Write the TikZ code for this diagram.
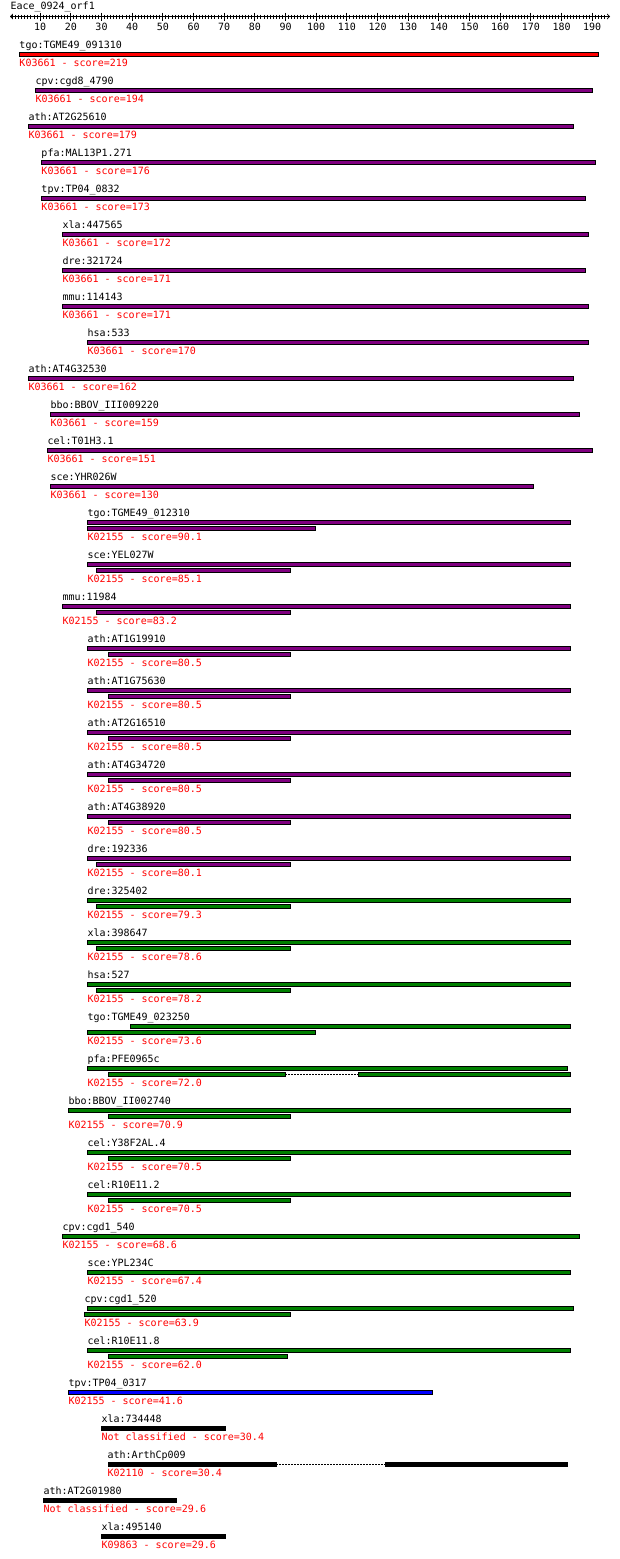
\documentclass[tikz,border=0pt]{standalone}
\usepackage{fontspec}
\newfontfamily\hitfont{DejaVu Sans Mono}
\usepackage{tikz}
\usetikzlibrary{positioning}
\definecolor{hitred}{RGB}{255,0,0}
\definecolor{hitpurple}{RGB}{128,0,128}
\definecolor{hitgreen}{RGB}{0,128,0}
\definecolor{hitblue}{RGB}{0,0,255}

\begin{document}
\begin{tikzpicture}[x=1pt,y=-1pt,line width=1pt,
  txt/.style={font=\hitfont\fontsize{10pt}{12pt}\selectfont,inner sep=0pt,text height=7.3pt,text depth=0pt},
  gene/.style={txt,anchor=west},
  kid/.style={txt,anchor=west,text=hitred},
  redbar/.style={draw=black,fill=hitred},
  purplebar/.style={draw=black,fill=hitpurple},
  greenbar/.style={draw=black,fill=hitgreen},
  bluebar/.style={draw=black,fill=hitblue},
  blackbar/.style={draw=black,fill=black},
  gapline/.style={line width=1pt,dash pattern=on 2pt off 1pt}]
  \useasboundingbox (0,0) rectangle (620,1559);

  % ruler
  \node[gene] (orf) at (10,6) {Eace\_0924\_orf1};
  \coordinate (r0) at (10,16.5);
  \coordinate (r1) at (610,16.5);
  \draw[<->] (r0) -- (r1);
  \foreach \v in {1,...,194}
    \draw ({9.5+3.067*\v},14.5) -- ++(0,4.5);
  \foreach \v in {10,20,...,190}{
    \draw ({9.5+3.067*\v},12.5) -- ++(0,8);
    \node[txt] (n\v) at ({9.5+3.067*\v},27) {\v};
  }

  % K03661
  \node[gene] (g01) at (19,45) {tgo:TGME49\_091310};
  \filldraw[redbar] (19,52) rectangle (598,56);
  \node[kid] (k01) at (19,63) {K03661 - score=219};

  \node[gene] (g02) at (35,81) {cpv:cgd8\_4790};
  \filldraw[purplebar] (35,88) rectangle (592,92);
  \node[kid] (k02) at (35,99) {K03661 - score=194};

  \node[gene] (g03) at (28,117) {ath:AT2G25610};
  \filldraw[purplebar] (28,124) rectangle (573,128);
  \node[kid] (k03) at (28,135) {K03661 - score=179};

  \node[gene] (g04) at (41,153) {pfa:MAL13P1.271};
  \filldraw[purplebar] (41,160) rectangle (595,164);
  \node[kid] (k04) at (41,171) {K03661 - score=176};

  \node[gene] (g05) at (41,189) {tpv:TP04\_0832};
  \filldraw[purplebar] (41,196) rectangle (585,200);
  \node[kid] (k05) at (41,207) {K03661 - score=173};

  \node[gene] (g06) at (62,225) {xla:447565};
  \filldraw[purplebar] (62,232) rectangle (588,236);
  \node[kid] (k06) at (62,243) {K03661 - score=172};

  \node[gene] (g07) at (62,261) {dre:321724};
  \filldraw[purplebar] (62,268) rectangle (585,272);
  \node[kid] (k07) at (62,279) {K03661 - score=171};

  \node[gene] (g08) at (62,297) {mmu:114143};
  \filldraw[purplebar] (62,304) rectangle (588,308);
  \node[kid] (k08) at (62,315) {K03661 - score=171};

  \node[gene] (g09) at (87,333) {hsa:533};
  \filldraw[purplebar] (87,340) rectangle (588,344);
  \node[kid] (k09) at (87,351) {K03661 - score=170};

  \node[gene] (g10) at (28,369) {ath:AT4G32530};
  \filldraw[purplebar] (28,376) rectangle (573,380);
  \node[kid] (k10) at (28,387) {K03661 - score=162};

  \node[gene] (g11) at (50,405) {bbo:BBOV\_III009220};
  \filldraw[purplebar] (50,412) rectangle (579,416);
  \node[kid] (k11) at (50,423) {K03661 - score=159};

  \node[gene] (g12) at (47,441) {cel:T01H3.1};
  \filldraw[purplebar] (47,448) rectangle (592,452);
  \node[kid] (k12) at (47,459) {K03661 - score=151};

  \node[gene] (g13) at (50,477) {sce:YHR026W};
  \filldraw[purplebar] (50,484) rectangle (533,488);
  \node[kid] (k13) at (50,495) {K03661 - score=130};

  % K02155
  \node[gene] (g14) at (87,513) {tgo:TGME49\_012310};
  \filldraw[purplebar] (87,520) rectangle (570,524);
  \filldraw[purplebar] (87,526) rectangle (315,530);
  \node[kid] (k14) at (87,537) {K02155 - score=90.1};

  \node[gene] (g15) at (87,555) {sce:YEL027W};
  \filldraw[purplebar] (87,562) rectangle (570,566);
  \filldraw[purplebar] (96,568) rectangle (290,572);
  \node[kid] (k15) at (87,579) {K02155 - score=85.1};

  \node[gene] (g16) at (62,597) {mmu:11984};
  \filldraw[purplebar] (62,604) rectangle (570,608);
  \filldraw[purplebar] (96,610) rectangle (290,614);
  \node[kid] (k16) at (62,621) {K02155 - score=83.2};

  \node[gene] (g17) at (87,639) {ath:AT1G19910};
  \filldraw[purplebar] (87,646) rectangle (570,650);
  \filldraw[purplebar] (108,652) rectangle (290,656);
  \node[kid] (k17) at (87,663) {K02155 - score=80.5};

  \node[gene] (g18) at (87,681) {ath:AT1G75630};
  \filldraw[purplebar] (87,688) rectangle (570,692);
  \filldraw[purplebar] (108,694) rectangle (290,698);
  \node[kid] (k18) at (87,705) {K02155 - score=80.5};

  \node[gene] (g19) at (87,723) {ath:AT2G16510};
  \filldraw[purplebar] (87,730) rectangle (570,734);
  \filldraw[purplebar] (108,736) rectangle (290,740);
  \node[kid] (k19) at (87,747) {K02155 - score=80.5};

  \node[gene] (g20) at (87,765) {ath:AT4G34720};
  \filldraw[purplebar] (87,772) rectangle (570,776);
  \filldraw[purplebar] (108,778) rectangle (290,782);
  \node[kid] (k20) at (87,789) {K02155 - score=80.5};

  \node[gene] (g21) at (87,807) {ath:AT4G38920};
  \filldraw[purplebar] (87,814) rectangle (570,818);
  \filldraw[purplebar] (108,820) rectangle (290,824);
  \node[kid] (k21) at (87,831) {K02155 - score=80.5};

  \node[gene] (g22) at (87,849) {dre:192336};
  \filldraw[purplebar] (87,856) rectangle (570,860);
  \filldraw[purplebar] (96,862) rectangle (290,866);
  \node[kid] (k22) at (87,873) {K02155 - score=80.1};

  \node[gene] (g23) at (87,891) {dre:325402};
  \filldraw[greenbar] (87,898) rectangle (570,902);
  \filldraw[greenbar] (96,904) rectangle (290,908);
  \node[kid] (k23) at (87,915) {K02155 - score=79.3};

  \node[gene] (g24) at (87,933) {xla:398647};
  \filldraw[greenbar] (87,940) rectangle (570,944);
  \filldraw[greenbar] (96,946) rectangle (290,950);
  \node[kid] (k24) at (87,957) {K02155 - score=78.6};

  \node[gene] (g25) at (87,975) {hsa:527};
  \filldraw[greenbar] (87,982) rectangle (570,986);
  \filldraw[greenbar] (96,988) rectangle (290,992);
  \node[kid] (k25) at (87,999) {K02155 - score=78.2};

  \node[gene] (g26) at (87,1017) {tgo:TGME49\_023250};
  \filldraw[greenbar] (130,1024) rectangle (570,1028);
  \filldraw[greenbar] (87,1030) rectangle (315,1034);
  \node[kid] (k26) at (87,1041) {K02155 - score=73.6};

  \node[gene] (g27) at (87,1059) {pfa:PFE0965c};
  \filldraw[greenbar] (87,1066) rectangle (567,1070);
  \coordinate (p1) at (285,1074);
  \coordinate (p2) at (358,1074);
  \filldraw[greenbar] (108,1072) rectangle (285,1076);
  \draw[gapline] (p1) -- (p2);
  \filldraw[greenbar] (358,1072) rectangle (570,1076);
  \node[kid] (k27) at (87,1083) {K02155 - score=72.0};

  \node[gene] (g28) at (68,1101) {bbo:BBOV\_II002740};
  \filldraw[greenbar] (68,1108) rectangle (570,1112);
  \filldraw[greenbar] (108,1114) rectangle (290,1118);
  \node[kid] (k28) at (68,1125) {K02155 - score=70.9};

  \node[gene] (g29) at (87,1143) {cel:Y38F2AL.4};
  \filldraw[greenbar] (87,1150) rectangle (570,1154);
  \filldraw[greenbar] (108,1156) rectangle (290,1160);
  \node[kid] (k29) at (87,1167) {K02155 - score=70.5};

  \node[gene] (g30) at (87,1185) {cel:R10E11.2};
  \filldraw[greenbar] (87,1192) rectangle (570,1196);
  \filldraw[greenbar] (108,1198) rectangle (290,1202);
  \node[kid] (k30) at (87,1209) {K02155 - score=70.5};

  \node[gene] (g31) at (62,1227) {cpv:cgd1\_540};
  \filldraw[greenbar] (62,1234) rectangle (579,1238);
  \node[kid] (k31) at (62,1245) {K02155 - score=68.6};

  \node[gene] (g32) at (87,1263) {sce:YPL234C};
  \filldraw[greenbar] (87,1270) rectangle (570,1274);
  \node[kid] (k32) at (87,1281) {K02155 - score=67.4};

  \node[gene] (g33) at (84,1299) {cpv:cgd1\_520};
  \filldraw[greenbar] (87,1306) rectangle (573,1310);
  \filldraw[greenbar] (84,1312) rectangle (290,1316);
  \node[kid] (k33) at (84,1323) {K02155 - score=63.9};

  \node[gene] (g34) at (87,1341) {cel:R10E11.8};
  \filldraw[greenbar] (87,1348) rectangle (570,1352);
  \filldraw[greenbar] (108,1354) rectangle (287,1358);
  \node[kid] (k34) at (87,1365) {K02155 - score=62.0};

  \node[gene] (g35) at (68,1383) {tpv:TP04\_0317};
  \filldraw[bluebar] (68,1390) rectangle (432,1394);
  \node[kid] (k35) at (68,1401) {K02155 - score=41.6};

  % weak hits
  \node[gene] (g36) at (101,1419) {xla:734448};
  \filldraw[blackbar] (101,1426) rectangle (225,1430);
  \node[kid] (k36) at (101,1437) {Not classified - score=30.4};

  \node[gene] (g37) at (107,1455) {ath:ArthCp009};
  \coordinate (a1) at (276,1464);
  \coordinate (a2) at (385,1464);
  \filldraw[blackbar] (108,1462) rectangle (276,1466);
  \draw[gapline] (a1) -- (a2);
  \filldraw[blackbar] (385,1462) rectangle (567,1466);
  \node[kid] (k37) at (107,1473) {K02110 - score=30.4};

  \node[gene] (g38) at (43,1491) {ath:AT2G01980};
  \filldraw[blackbar] (43,1498) rectangle (176,1502);
  \node[kid] (k38) at (43,1509) {Not classified - score=29.6};

  \node[gene] (g39) at (101,1527) {xla:495140};
  \filldraw[blackbar] (101,1534) rectangle (225,1538);
  \node[kid] (k39) at (101,1545) {K09863 - score=29.6};
\end{tikzpicture}
\end{document}
